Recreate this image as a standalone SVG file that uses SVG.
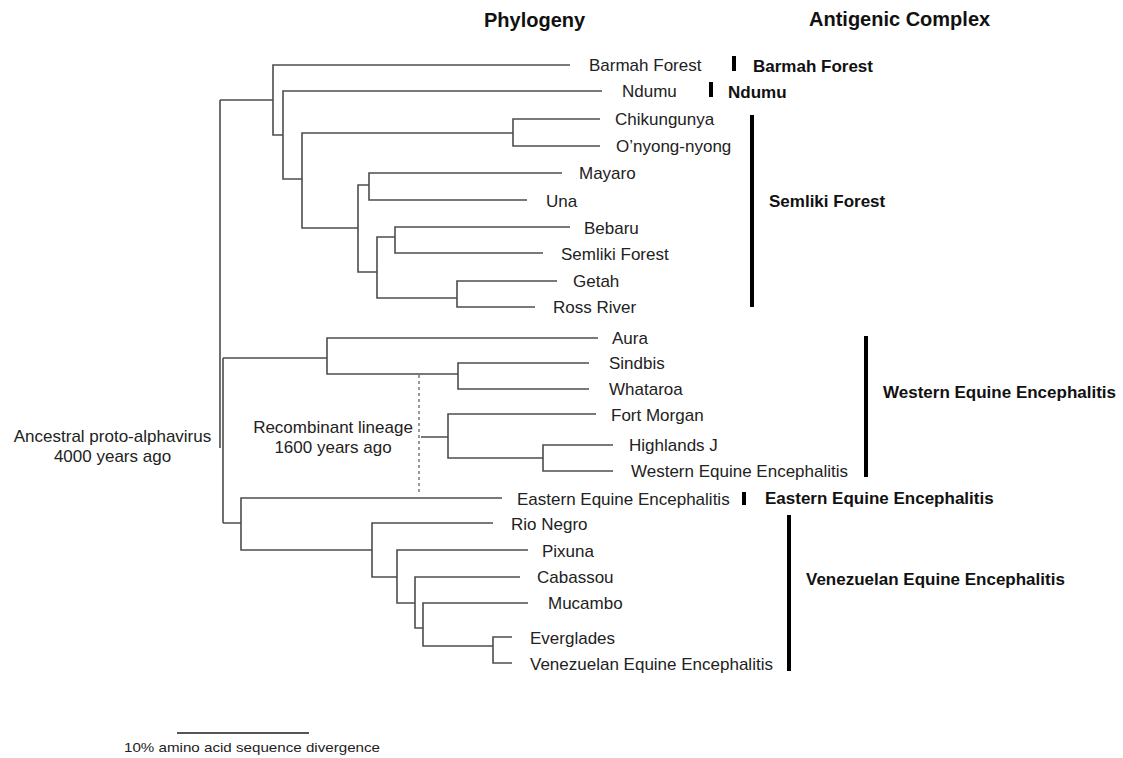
<svg xmlns="http://www.w3.org/2000/svg" width="1123" height="758" viewBox="0 0 1123 758">
<style>
.t{font-family:"Liberation Sans",Arial,sans-serif;font-size:17px;fill:#222}
.b{font-family:"Liberation Sans",Arial,sans-serif;font-size:17px;font-weight:bold;fill:#111}
.h{font-family:"Liberation Sans",Arial,sans-serif;font-size:20px;font-weight:bold;fill:#111}
.s{font-family:"Liberation Sans",Arial,sans-serif;font-size:13.5px;fill:#222}
.br{fill:none;stroke:#4d4d4d;stroke-width:1.6}
.dash{fill:none;stroke:#555;stroke-width:1.2;stroke-dasharray:3,3}
.bar{stroke:#000;stroke-width:4}
</style>
<rect width="1123" height="758" fill="#fff"/>
<g id="titles">
<text class="h" x="484" y="27">Phylogeny</text>
<text class="h" x="809" y="26">Antigenic Complex</text>
</g>
<g id="connectors">
<path class="br" d="M220,100V448M223,358V523M220,100H273"/>
<path class="br" d="M570,65H273V135H283"/>
<path class="br" d="M602,91H283V179H302"/>
<path class="br" d="M513,133H302V228H358"/>
<path class="br" d="M600,119H513V146H600"/>
<path class="br" d="M369,185H358V272H377"/>
<path class="br" d="M562,173H369V200H527"/>
<path class="br" d="M395,237H377V298H457"/>
<path class="br" d="M570,227H395V253H543"/>
<path class="br" d="M557,281H457V307H535"/>
<path class="br" d="M223,358H327M598,338H327V374H458"/>
<path class="br" d="M589,363H458V389H589"/>
<path class="dash" d="M419,375V495"/>
<path class="br" d="M421,437H448M596,414H448V458H543"/>
<path class="br" d="M613,445H543V471H613"/>
<path class="br" d="M223,523H241M502,498H241V550H372"/>
<path class="br" d="M493,523H372V577H397"/>
<path class="br" d="M528,550H397V603H415"/>
<path class="br" d="M520,577H415V628H423"/>
<path class="br" d="M528,603H423V646H493"/>
<path class="br" d="M512,637H493V663H512"/>
</g>
<g id="root"><text class="t" x="112.5" y="442" text-anchor="middle">Ancestral proto-alphavirus</text><text class="t" x="112.5" y="462" text-anchor="middle">4000 years ago</text></g>
<g id="recombinant"><text class="t" x="333" y="433" text-anchor="middle">Recombinant lineage</text><text class="t" x="333" y="453" text-anchor="middle">1600 years ago</text></g>
<g id="leaf-barmah"><text class="t" x="589" y="71">Barmah Forest</text></g>
<g id="leaf-ndumu"><text class="t" x="622" y="97">Ndumu</text></g>
<g id="leaf-chikungunya"><text class="t" x="615" y="125">Chikungunya</text></g>
<g id="leaf-onyong"><text class="t" x="616" y="152">O’nyong-nyong</text></g>
<g id="leaf-mayaro"><text class="t" x="579" y="179">Mayaro</text></g>
<g id="leaf-una"><text class="t" x="546" y="207">Una</text></g>
<g id="leaf-bebaru"><text class="t" x="584" y="234">Bebaru</text></g>
<g id="leaf-semliki"><text class="t" x="561" y="260">Semliki Forest</text></g>
<g id="leaf-getah"><text class="t" x="573" y="287">Getah</text></g>
<g id="leaf-ross"><text class="t" x="553" y="313">Ross River</text></g>
<g id="leaf-aura"><text class="t" x="612" y="344">Aura</text></g>
<g id="leaf-sindbis"><text class="t" x="609" y="369">Sindbis</text></g>
<g id="leaf-whataroa"><text class="t" x="609" y="395">Whataroa</text></g>
<g id="leaf-fortmorgan"><text class="t" x="611" y="421">Fort Morgan</text></g>
<g id="leaf-highlands"><text class="t" x="629" y="451">Highlands J</text></g>
<g id="leaf-wee"><text class="t" x="631" y="477">Western Equine Encephalitis</text></g>
<g id="leaf-eee"><text class="t" x="517" y="505">Eastern Equine Encephalitis</text></g>
<g id="leaf-rionegro"><text class="t" x="511" y="530">Rio Negro</text></g>
<g id="leaf-pixuna"><text class="t" x="542" y="557">Pixuna</text></g>
<g id="leaf-cabassou"><text class="t" x="537" y="583">Cabassou</text></g>
<g id="leaf-mucambo"><text class="t" x="548" y="609">Mucambo</text></g>
<g id="leaf-everglades"><text class="t" x="530" y="644">Everglades</text></g>
<g id="leaf-vee"><text class="t" x="530" y="670">Venezuelan Equine Encephalitis</text></g>
<g id="complex-barmah"><line class="bar" x1="734" y1="56" x2="734" y2="71"/><text class="b" x="753" y="72">Barmah Forest</text></g>
<g id="complex-ndumu"><line class="bar" x1="711" y1="82" x2="711" y2="97"/><text class="b" x="728" y="98">Ndumu</text></g>
<g id="complex-semliki"><line class="bar" x1="752" y1="115" x2="752" y2="307"/><text class="b" x="769" y="207">Semliki Forest</text></g>
<g id="complex-wee"><line class="bar" x1="866" y1="336" x2="866" y2="477"/><text class="b" x="883" y="398">Western Equine Encephalitis</text></g>
<g id="complex-eee"><line class="bar" x1="744" y1="492" x2="744" y2="505"/><text class="b" x="765" y="504">Eastern Equine Encephalitis</text></g>
<g id="complex-vee"><line class="bar" x1="789" y1="515" x2="789" y2="671"/><text class="b" x="806" y="585">Venezuelan Equine Encephalitis</text></g>
<g id="scale"><path d="M177,733H309" stroke="#555" stroke-width="2"/><text class="s" x="124" y="752" textLength="256" lengthAdjust="spacingAndGlyphs">10% amino acid sequence divergence</text></g>
</svg>
